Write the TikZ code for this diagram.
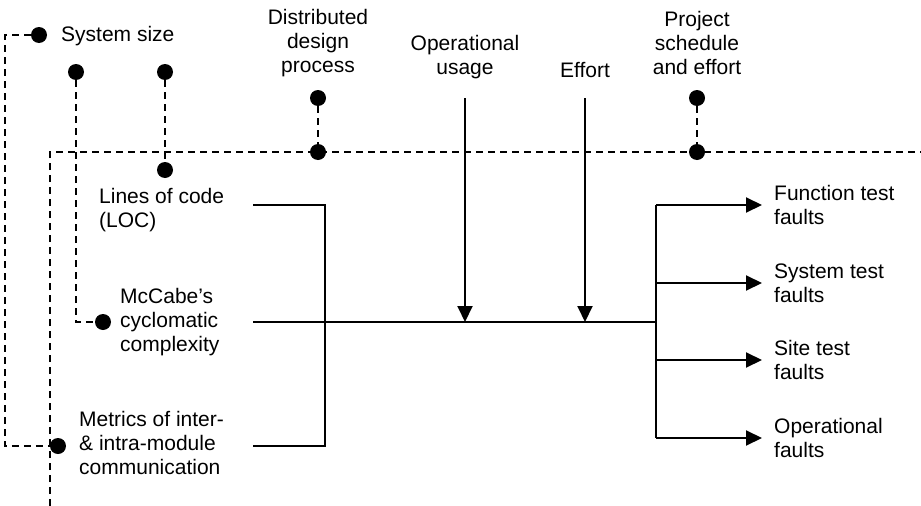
\documentclass[tikz,border=0pt]{standalone}
\usepackage{fontspec}
\setmainfont{Liberation Sans}
\usetikzlibrary{positioning,arrows.meta}
\tikzset{
  dot/.style={circle, fill=black, inner sep=0pt, minimum size=16pt},
  link/.style={draw, black, line width=1.9pt, dash pattern=on 7pt off 5pt},
  flow/.style={draw, black, line width=2pt},
  pointer/.style={flow, -{Triangle[length=16pt,width=15pt]}},
  txt/.style={align=left, inner sep=0pt, font=\fontsize{21}{24}\selectfont},
  head/.style={txt, align=center},
}

\begin{document}
\begin{tikzpicture}[x=1pt,y=-1pt]
\useasboundingbox (0,0) rectangle (921,506);

% measurement side (dashed)
\node[dot] (size) at (39,35) {};
\node[txt, anchor=west] (sizetxt) at (61,36) {System size};
\node[dot] (cc) at (76,72) {};
\node[dot] (lc) at (165,72) {};
\node[dot] (loc) at (165,170) {};
\node[dot] (mcc) at (103,322) {};
\node[dot] (mim) at (58,446) {};

\node[head] (ddptxt) at (318,43) {Distributed\\design\\process};
\node[dot] (ddp) at (318,98) {};
\node[dot] (ddpbus) at (318,152) {};
\node[head] (psetxt) at (697,43) {Project\\schedule\\and effort};
\node[dot] (pse) at (697,98) {};
\node[dot] (psebus) at (697,152) {};

\coordinate (busL) at (50,152);
\coordinate (busR) at (921,152);
\coordinate (busB) at (50,506);
\draw[link] (busB) -- (busL) -- (busR);
\draw[link] (size.west) -- ++(-26,0) |- (mim);
\draw[link] (cc) |- (mcc);
\draw[link] (lc) -- (loc);
\draw[link] (ddp) -- (ddpbus);
\draw[link] (pse) -- (psebus);

% inputs
\node[txt, anchor=west] (loctxt) at (99,210) {Lines of code\\(LOC)};
\node[txt, anchor=west] (mcctxt) at (120,322) {McCabe’s\\cyclomatic\\complexity};
\node[txt, anchor=west] (mimtxt) at (79,443) {Metrics of inter-\\\& intra-module\\communication};

\coordinate (locout) at (253,205);
\coordinate (locend) at (325,205);
\coordinate (mccout) at (253,322);
\coordinate (mimout) at (253,446);
\coordinate (split) at (656,322);
\draw[flow] (locout) -- (locend) |- (mimout);
\draw[flow] (mccout) -- (split);

% influences from above
\node[head] (usage) at (465,57) {Operational\\usage};
\node[head] (effort) at (585,70) {Effort};
\coordinate (usagein) at (465,98);
\coordinate (effortin) at (585,98);
\draw[pointer] (usagein) -- (usagein |- split);
\draw[pointer] (effortin) -- (effortin |- split);

% outputs
\foreach \y/\name/\txt in {205/ftf/{Function test\\faults},
                           283/stf/{System test\\faults},
                           360/sitf/{Site test\\faults},
                           438/opf/{Operational\\faults}}
{
  \node[txt, anchor=west] (\name) at (774,\y) {\txt};
  \draw[pointer] (split |- \name.west) -- ([xshift=-12pt]\name.west);
}
\draw[flow] (split |- ftf.west) -- (split |- opf.west);

\end{tikzpicture}
\end{document}
